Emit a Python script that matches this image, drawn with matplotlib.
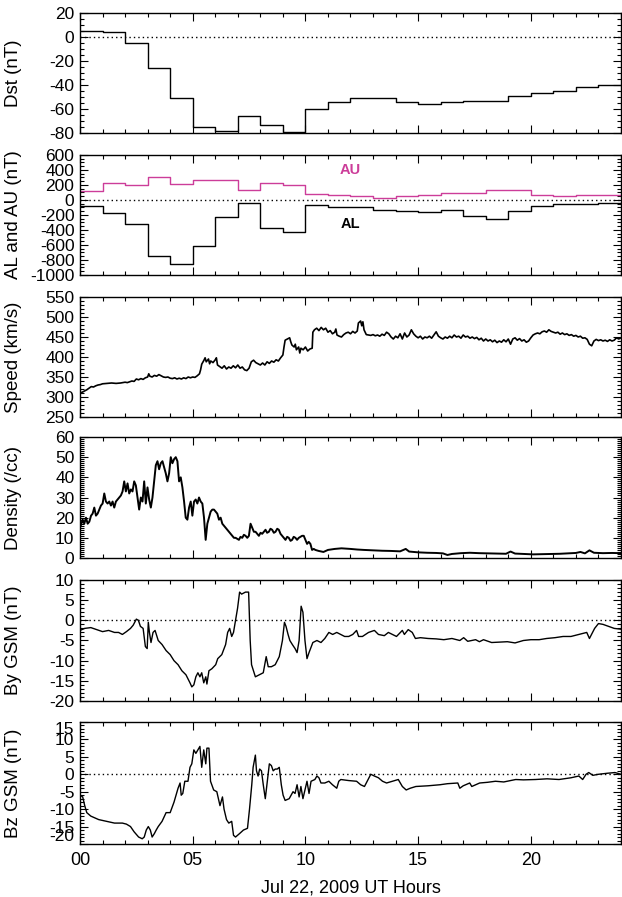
import matplotlib
matplotlib.use("Agg")
import matplotlib.pyplot as plt
from matplotlib.ticker import MultipleLocator
import numpy as np

plt.rcParams['font.family'] = ['Liberation Sans', 'DejaVu Sans']
plt.rcParams['axes.unicode_minus'] = False

# ---- hourly indices (value for each UT hour 00..23) ----
dst_hourly = [5, 4, -5, -26, -51, -75, -78, -66, -73, -79, -60, -54,
              -51, -51, -54, -56, -54, -53, -53, -49, -47, -45, -42, -40]
au_hourly = [125, 230, 205, 310, 215, 260, 260, 135, 220, 200, 80, 70,
             55, 25, 50, 65, 95, 90, 130, 130, 60, 55, 65, 65]
al_hourly = [-80, -170, -320, -750, -850, -620, -230, -40, -380, -430, -70, -90,
             -100, -140, -150, -160, -130, -220, -260, -150, -75, -60, -55, -45]

# ---- solar wind speed (km/s) ----
speed_t = [0.0, 0.1, 0.2, 0.3, 0.4, 0.5, 0.6, 0.7, 0.8, 0.9, 1.0, 1.2, 1.4, 1.6, 1.8,
           2.0, 2.1, 2.2, 2.3, 2.4, 2.5, 2.6, 2.7, 2.8, 2.9, 3.0, 3.05, 3.1, 3.2, 3.3,
           3.4, 3.5, 3.6, 3.7, 3.8, 3.9, 4.0, 4.1, 4.2, 4.3, 4.4, 4.5, 4.6, 4.7, 4.8,
           4.9, 5.0, 5.1, 5.2, 5.3, 5.35, 5.4, 5.5, 5.55, 5.6, 5.7, 5.75, 5.8, 5.9, 6.0,
           6.05, 6.1, 6.2, 6.3, 6.4, 6.5, 6.6, 6.7, 6.8, 6.9, 7.0, 7.1, 7.2, 7.3, 7.4,
           7.5, 7.6, 7.7, 7.8, 7.9, 8.0, 8.1, 8.2, 8.3, 8.4, 8.5, 8.6, 8.7, 8.8, 8.9,
           9.0, 9.05, 9.1, 9.2, 9.3, 9.35, 9.4, 9.5, 9.55, 9.6, 9.7, 9.75, 9.8, 9.9, 10.0,
           10.1, 10.2, 10.3, 10.33, 10.4, 10.5, 10.6, 10.7, 10.8, 10.9, 11.0, 11.1, 11.2, 11.3, 11.35,
           11.4, 11.5, 11.6, 11.7, 11.8, 11.9, 12.0, 12.1, 12.2, 12.3, 12.35, 12.45, 12.5, 12.55, 12.6,
           12.7, 12.8, 12.9, 13.0, 13.1, 13.2, 13.3, 13.4, 13.5, 13.6, 13.7, 13.8, 13.9, 14.0, 14.1,
           14.2, 14.3, 14.4, 14.5, 14.6, 14.7, 14.8, 14.9, 15.0, 15.1, 15.2, 15.3, 15.4, 15.5, 15.6,
           15.7, 15.8, 15.9, 16.0, 16.1, 16.2, 16.3, 16.4, 16.5, 16.6, 16.7, 16.8, 16.9, 17.0, 17.1,
           17.2, 17.3, 17.4, 17.5, 17.6, 17.7, 17.8, 17.9, 18.0, 18.1, 18.2, 18.3, 18.4, 18.5, 18.6,
           18.7, 18.8, 18.9, 19.0, 19.1, 19.2, 19.3, 19.4, 19.5, 19.6, 19.7, 19.8, 19.9, 20.0, 20.1,
           20.2, 20.3, 20.4, 20.5, 20.6, 20.7, 20.8, 20.9, 21.0, 21.1, 21.2, 21.3, 21.4, 21.5, 21.6,
           21.7, 21.8, 21.9, 22.0, 22.1, 22.2, 22.3, 22.4, 22.5, 22.6, 22.7, 22.8, 22.9, 23.0, 23.1,
           23.2, 23.3, 23.4, 23.5, 23.6, 23.7, 23.8, 23.9, 24.0]
speed_v = [310, 312, 315, 318, 322, 326, 325, 328, 330, 331, 333, 334, 335, 334, 335,
           337, 336, 338, 340, 339, 345, 343, 346, 344, 348, 350, 358, 352, 350, 354,
           352, 356, 353, 350, 349, 350, 347, 346, 348, 345, 347, 345, 348, 346, 350,
           348, 350, 349, 353, 358, 368, 382, 392, 398, 388, 395, 383, 390, 386, 393,
           398, 380, 376, 372, 378, 370, 375, 372, 378, 373, 380, 372, 375, 368, 366,
           372, 388, 392, 386, 383, 380, 385, 380, 388, 384, 390, 387, 393, 390, 398,
           405, 425, 442, 445, 448, 438, 430, 425, 432, 418, 425, 410, 422, 418, 425,
           415, 420, 422, 462, 468, 472, 466, 474, 468, 472, 462, 466, 458, 462, 470,
           455, 452, 450, 456, 460, 462, 458, 464, 460, 465, 485, 490, 478, 488, 468,
           456, 455, 454, 456, 453, 455, 452, 457, 454, 462, 458, 450, 445, 452, 448,
           458, 445, 460, 450, 455, 468, 458, 452, 448, 452, 445, 450, 448, 452, 447,
           455, 463, 452, 448, 445, 450, 447, 452, 448, 455, 450, 452, 447, 455, 450,
           452, 447, 450, 446, 449, 443, 447, 440, 445, 440, 443, 438, 442, 436, 440,
           437, 443, 438, 445, 432, 445, 448, 442, 446, 440, 443, 437, 440, 448, 455,
           458, 460, 458, 463, 465, 462, 468, 464, 462, 460, 462, 457, 460, 456, 458,
           454, 456, 452, 454, 450, 452, 447, 448, 444, 432, 428, 440, 444, 441, 443,
           440, 442, 439, 443, 440, 442, 448, 445, 448]

# ---- proton density (/cc) ----
dens_t = [0.0, 0.118, 0.19, 0.265, 0.34, 0.413, 0.49, 0.56, 0.634, 0.708, 0.782, 0.855, 0.929,
          1.003, 1.077, 1.15, 1.224, 1.298, 1.372, 1.445, 1.519, 1.593, 1.667, 1.74, 1.814,
          1.888, 1.962, 2.035, 2.109, 2.183, 2.257, 2.33, 2.404, 2.478, 2.552, 2.625, 2.699,
          2.773, 2.847, 2.92, 2.994, 3.068, 3.142, 3.215, 3.289, 3.363, 3.437, 3.51, 3.584,
          3.658, 3.732, 3.805, 3.879, 3.953, 4.027, 4.1, 4.174, 4.248, 4.322, 4.395, 4.469,
          4.543, 4.617, 4.69, 4.764, 4.838, 4.912, 4.985, 5.059, 5.133, 5.206, 5.28, 5.354,
          5.428, 5.501, 5.575, 5.649, 5.723, 5.796, 5.87, 5.944, 6.018, 6.091, 6.165, 6.239,
          6.313, 6.386, 6.46, 6.534, 6.608, 6.681, 6.755, 6.829, 6.903, 6.98, 7.05, 7.12, 7.198,
          7.27, 7.345, 7.42, 7.493, 7.566, 7.64, 7.714, 7.788, 7.86, 7.935, 8.01, 8.083, 8.156,
          8.23, 8.3, 8.378, 8.45, 8.525, 8.6, 8.673, 8.75, 8.82, 8.894, 8.968, 9.041, 9.115,
          9.19, 9.263, 9.34, 9.41, 9.48, 9.558, 9.63, 9.705, 9.78, 9.853, 9.926, 10.0, 10.074,
          10.147, 10.221, 10.295, 10.37, 10.442, 10.59, 10.8, 11.0, 11.3, 11.6, 12.0, 12.3,
          12.6, 13.0, 13.4, 13.8, 14.2, 14.45, 14.6, 15.0, 15.4, 15.8, 16.1, 16.3, 16.5,
          16.9, 17.3, 17.7, 18.1, 18.5, 18.9, 19.1, 19.3, 19.7, 20.1, 20.5, 20.9, 21.3,
          21.7, 22.0, 22.2, 22.4, 22.6, 22.8, 23.2, 23.6, 24.0]
dens_v = [15, 19, 17, 20, 17, 18, 21, 22, 25, 21, 22, 24, 26,
          27, 32, 28, 27, 28, 26, 28, 25, 28, 29, 30, 31,
          33, 38, 33, 37, 32, 34, 33, 38, 36, 30, 24, 30,
          28, 38, 27, 35, 29, 25, 30, 38, 46, 48, 44, 47,
          48, 45, 42, 38, 42, 50, 47, 49, 50, 48, 38, 40,
          35, 28, 20, 19, 25, 28, 21, 28, 29, 27, 30, 28,
          27, 20, 9, 17, 20, 23, 24, 24, 23, 22, 19, 20,
          17, 16, 15, 14, 13, 12, 11, 10, 10, 9.5, 9, 10.5, 10,
          11.5, 11, 10, 11, 17, 15, 13, 13, 12, 11, 12.5, 12, 13,
          14, 12.5, 13, 14.5, 14, 12.5, 13, 14.5, 14, 12, 11, 10, 9,
          10.5, 10, 8.5, 9, 10.5, 10, 9, 10, 10.5, 11, 11, 9, 7,
          8, 7, 4, 4.5, 4, 3.5, 3, 4, 4.5, 4.8, 4.5, 4.2,
          4, 3.8, 3.6, 3.5, 3.3, 4.5, 3.2, 2.8, 2.6, 2.5, 2.3, 1.5, 2,
          2.4, 2.6, 2.4, 2.3, 2.2, 2.1, 3.2, 2.2, 2, 1.8, 1.9, 2, 2.1,
          2.3, 2.5, 3.0, 2.3, 3.8, 2.6, 2.4, 2.5, 2.4]

# ---- IMF By GSM (nT) ----
by_t = [0.0, 0.21, 0.48, 0.74, 1.0, 1.27, 1.53, 1.71, 1.88, 2.06, 2.24, 2.36, 2.5, 2.59,
        2.68, 2.8, 2.9, 2.98, 3.03, 3.08, 3.15, 3.24, 3.33, 3.47, 3.64, 3.82, 4.0, 4.17,
        4.35, 4.52, 4.7, 4.88, 4.96, 5.05, 5.14, 5.23, 5.32, 5.4, 5.49, 5.58, 5.63, 5.72,
        5.85, 6.02, 6.11, 6.29, 6.46, 6.55, 6.64, 6.73, 6.81, 6.9, 6.99, 7.08, 7.17, 7.34,
        7.48, 7.55, 7.61, 7.78, 7.96, 8.13, 8.26, 8.35, 8.49, 8.66, 8.84, 8.98, 9.07, 9.14,
        9.23, 9.31, 9.42, 9.54, 9.63, 9.72, 9.81, 9.89, 9.98, 10.07, 10.16, 10.33, 10.51,
        10.69, 10.86, 11.04, 11.21, 11.39, 11.56, 11.74, 11.92, 12.1, 12.27, 12.36, 12.53,
        12.8, 13.06, 13.24, 13.5, 13.68, 13.86, 14.04, 14.3, 14.39, 14.56, 14.74, 14.88,
        15.1, 15.44, 15.8, 16.14, 16.5, 16.85, 17.02, 17.2, 17.55, 17.72, 17.9, 18.26,
        18.6, 18.96, 19.3, 19.67, 20.0, 20.37, 20.7, 21.07, 21.43, 21.78, 22.13, 22.48,
        22.6, 22.83, 23.0, 23.2, 23.45, 23.7, 24.0]
by_v = [-2.5, -2, -1.8, -2.3, -2.8, -2.5, -3, -3, -3.5, -2.8, -2, -1.2, 0.3, 0,
        -1.5, -2, -6.5, -7, -0.5, -3, -5.5, -3, -2.5, -5, -6, -7.5, -8.5, -10,
        -11, -12.5, -13.5, -15.5, -16.5, -16, -14, -13, -14, -13, -15.5, -14, -15.8, -12.5,
        -12, -11, -9.5, -8.5, -6, -3, -2, -4, -3, 0, 3, 7, 6.5, 7,
        7, -5, -11, -14, -13.5, -13, -9, -11.5, -11.5, -11, -9, -5, -0.5, -1.5,
        -3.5, -5, -6, -7, -8, -5, 3.5, 2, -5, -9.5, -8, -5.5, -5,
        -5.5, -4.5, -3, -3.5, -3, -3.5, -4, -4, -3.5, -2.5, -4, -4,
        -3, -2.5, -3.5, -3.8, -3, -3.5, -4, -2.5, -3.5, -2.3, -3, -4.5,
        -4.3, -4.5, -4.6, -4.8, -4.5, -5, -4.3, -5.2, -4.8, -5.3, -4.8, -5.5,
        -5.4, -5.3, -5.6, -5, -4.8, -4.8, -4.5, -4.3, -4, -4, -3.5, -3,
        -4.5, -2, -0.8, -1, -1.5, -2, -2.2]

# ---- IMF Bz GSM (nT) ----
bz_t = [0.0, 0.12, 0.21, 0.3, 0.48, 0.83, 1.18, 1.53, 1.88, 2.06, 2.24, 2.4, 2.6, 2.76,
        2.85, 2.94, 3.03, 3.12, 3.2, 3.3, 3.38, 3.47, 3.64, 3.82, 4.0, 4.17, 4.26, 4.35,
        4.44, 4.49, 4.56, 4.65, 4.79, 4.88, 4.96, 5.05, 5.14, 5.23, 5.32, 5.4, 5.49, 5.58,
        5.63, 5.72, 5.79, 5.93, 6.07, 6.14, 6.21, 6.32, 6.39, 6.5, 6.6, 6.73, 6.81, 6.9,
        7.08, 7.25, 7.43, 7.52, 7.62, 7.68, 7.78, 7.83, 7.9, 7.97, 8.05, 8.13, 8.22, 8.31,
        8.4, 8.49, 8.57, 8.66, 8.75, 8.84, 8.93, 9.01, 9.1, 9.28, 9.45, 9.54, 9.63, 9.72,
        9.8, 9.89, 9.98, 10.07, 10.16, 10.25, 10.42, 10.51, 10.6, 10.69, 10.86, 11.04, 11.2,
        11.39, 11.48, 11.57, 11.92, 12.27, 12.45, 12.62, 12.7, 12.9, 13.06, 13.24, 13.42,
        13.6, 13.86, 14.12, 14.3, 14.47, 14.65, 14.9, 15.44, 15.97, 16.3, 16.76, 16.85,
        17.0, 17.29, 17.38, 17.73, 18.08, 18.43, 18.8, 19.33, 19.67, 20.2, 20.72, 21.25,
        21.78, 22.13, 22.3, 22.45, 22.57, 22.75, 23.0, 23.4, 23.73, 24.0]
bz_v = [-6, -6.5, -9, -11, -12, -13, -13.5, -14, -14, -14.3, -15, -16.5, -18, -18.5,
        -18, -16, -15, -16, -18, -17, -16, -15, -13.5, -11, -11, -8, -6, -4,
        -2.5, -6, -5.5, -2, -2, 2, 3, 7, 6, 7, 8, 2, 7, 3,
        7.5, 7.5, -2, -4.5, -5, -7, -9, -6.5, -10, -13, -14, -13.5, -17.5, -18,
        -17, -16, -15.5, -10, -3, 2, 5.5, 1, -0.5, 1.5, 1, -3, -7, -2,
        3, 2.5, 1, 1.5, 1.5, 2, -3, -6, -7.5, -7, -5, -5.5, -3, -6.5,
        -3.5, -7, -4.5, -2, -5.5, -2, -1.5, -0.5, -1, -2.5, -2.5, -2, -3,
        -4, -2, -1.5, -1.8, -2, -3, -3.5, -2.5, 0, -0.5, -1, -2,
        -2.5, -2, -1.5, -3.5, -4.5, -4, -3.5, -3.3, -3, -2.7, -2.5, -4,
        -3.3, -2.5, -3.5, -2.5, -2.3, -2, -2.2, -1.5, -1.6, -1.5, -1.3, -1.5,
        -1, -0.5, -1.5, 0, 0.5, -0.3, 0, 0.3, 0.5, 0]

hours = np.arange(25)
xtick_vals = [0, 5, 10, 15, 20]
xtick_text = ['00', '05', '10', '15', '20']

W, H = 622, 897
fig = plt.figure(figsize=(W / 100, H / 100), dpi=100)

# panel boxes in pixels: (top, bottom)
boxes = [(13, 133), (155, 275), (297, 417), (437, 558), (580, 701), (722, 844)]
x0, x1 = 80, 621
TICK_FS = 12.5
LABEL_FS = 13.5


def make_axes(top, bottom):
    ax = fig.add_axes([x0 / W, 1 - bottom / H, (x1 - x0) / W, (bottom - top) / H])
    ax.set_xlim(0, 24)
    ax.xaxis.set_minor_locator(MultipleLocator(1))
    ax.tick_params(which='both', direction='in', top=True, right=True,
                   labelsize=TICK_FS, width=0.8, pad=4)
    ax.tick_params(which='major', length=6)
    ax.tick_params(which='minor', length=3)
    for s in ax.spines.values():
        s.set_linewidth(1.0)
    ax.set_xticks(xtick_vals)
    ax.set_xticklabels([])
    return ax


def zero_line(ax):
    ax.axhline(0, color='black', lw=1.0, ls=(0, (1, 2.2)), zorder=1)


def set_ylabel(ax, text):
    ax.set_ylabel(text, fontsize=LABEL_FS)
    ax.yaxis.set_label_coords(-(x0 - 22) / (x1 - x0), 0.5)


# Dst
ax = make_axes(*boxes[0])
ax.step(hours, dst_hourly + [dst_hourly[-1]], where='post', color='black', lw=1.0)
zero_line(ax)
ax.set_ylim(-80, 20)
ax.set_yticks(np.arange(-80, 21, 20))
ax.yaxis.set_minor_locator(MultipleLocator(5))
set_ylabel(ax, 'Dst (nT)')

# AL and AU
ax = make_axes(*boxes[1])
ax.step(hours, au_hourly + [au_hourly[-1]], where='post', color='#cc3d99', lw=1.0)
ax.step(hours, al_hourly + [al_hourly[-1]], where='post', color='black', lw=1.0)
zero_line(ax)
ax.set_ylim(-1000, 600)
ax.set_yticks(np.arange(-1000, 601, 200))
ax.yaxis.set_minor_locator(MultipleLocator(50))
ax.text(12.0, 400, 'AU', color='#cc3d99', fontsize=10.5, fontweight='bold',
        ha='center', va='center')
ax.text(12.0, -320, 'AL', color='black', fontsize=10.5, fontweight='bold',
        ha='center', va='center')
set_ylabel(ax, 'AL and AU (nT)')

# Speed
ax = make_axes(*boxes[2])
ax.plot(speed_t, speed_v, color='black', lw=1.2)
ax.set_ylim(250, 550)
ax.set_yticks(np.arange(250, 551, 50))
ax.yaxis.set_minor_locator(MultipleLocator(10))
set_ylabel(ax, 'Speed (km/s)')

# Density
ax = make_axes(*boxes[3])
ax.plot(dens_t, dens_v, color='black', lw=1.4)
ax.set_ylim(0, 60)
ax.set_yticks(np.arange(0, 61, 10))
ax.yaxis.set_minor_locator(MultipleLocator(1))
set_ylabel(ax, 'Density (/cc)')

# By
ax = make_axes(*boxes[4])
ax.plot(by_t, by_v, color='black', lw=1.0)
zero_line(ax)
ax.set_ylim(-20, 10)
ax.set_yticks(np.arange(-20, 11, 5))
ax.yaxis.set_minor_locator(MultipleLocator(1))
set_ylabel(ax, 'By GSM (nT)')

# Bz
ax = make_axes(*boxes[5])
ax.plot(bz_t, bz_v, color='black', lw=1.0)
zero_line(ax)
ax.set_ylim(-20, 15)
bz_ticks = list(range(-20, 16, 5))
tick_objs = ax.set_yticks(bz_ticks, labels=[str(v) for v in bz_ticks])
for tk, v in zip(tick_objs, bz_ticks):
    if v == 15:
        tk.label1.set_va('top')
    elif v == -20:
        tk.label1.set_va('bottom')
ax.yaxis.set_minor_locator(MultipleLocator(1))
ax.set_xticks(xtick_vals, labels=xtick_text)
ax.tick_params(axis='x', pad=6, labelsize=13)
set_ylabel(ax, 'Bz GSM (nT)')
ax.set_xlabel('Jul 22, 2009 UT Hours', fontsize=13, labelpad=7)

fig.savefig('out.png', dpi=100)
